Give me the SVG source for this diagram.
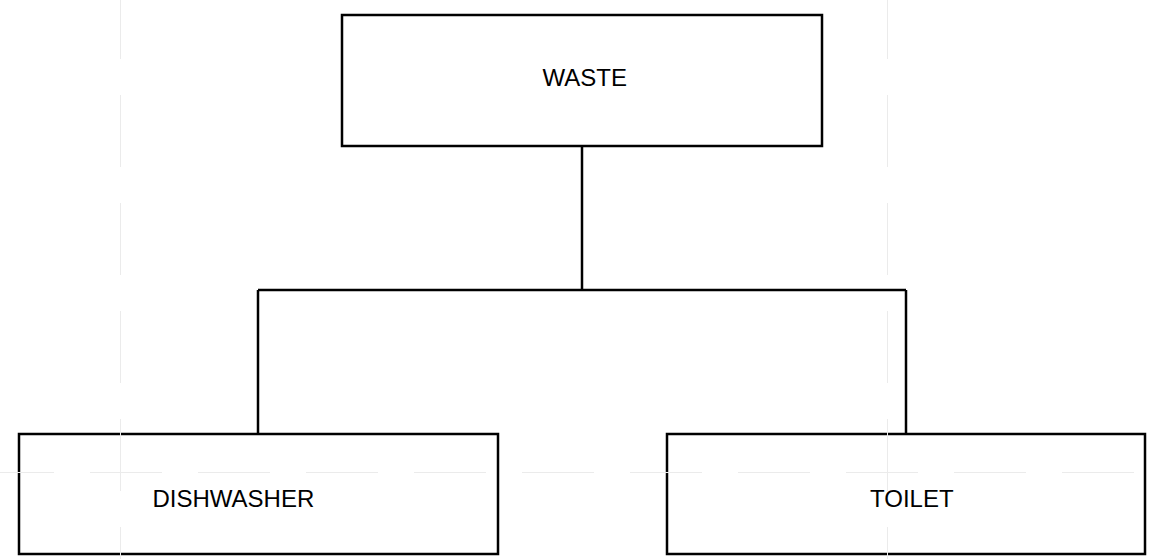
<svg xmlns="http://www.w3.org/2000/svg" width="1150" height="559" viewBox="0 0 1150 559">
  <style>
    .box { fill: none; stroke: #000; stroke-width: 2.5; }
    .conn { fill: none; stroke: #000; stroke-width: 2.5; }
    .lbl { font-family: "Liberation Sans", Arial, sans-serif; font-size: 24px; fill: #000; }
    .grid { stroke: #ebebeb; stroke-width: 1; fill: none; stroke-dasharray: 72 36; }
  </style>
  <rect width="1150" height="559" fill="#fff"/>
  <g id="connectors">
    <path class="conn" d="M582,146 V290"/>
    <path class="conn" d="M258,290 H906"/>
    <path class="conn" d="M258,290 V434"/>
    <path class="conn" d="M906,290 V434"/>
  </g>
  <g id="node-waste">
    <rect class="box" x="342" y="15" width="480" height="131"/>
    <text class="lbl" x="542.5" y="86">WASTE</text>
  </g>
  <g id="node-dishwasher">
    <rect class="box" x="19" y="434" width="479" height="120"/>
    <text class="lbl" x="152.5" y="507">DISHWASHER</text>
  </g>
  <g id="node-toilet">
    <rect class="box" x="667" y="434" width="478" height="120"/>
    <text class="lbl" x="870" y="507">TOILET</text>
  </g>
  <g id="guides">
    <line class="grid" x1="120.5" y1="0" x2="120.5" y2="559" stroke-dashoffset="13"/>
    <line class="grid" x1="887.5" y1="0" x2="887.5" y2="559" stroke-dashoffset="13"/>
    <line class="grid" x1="0" y1="472.5" x2="1150" y2="472.5" stroke-dashoffset="18"/>
  </g>
</svg>
